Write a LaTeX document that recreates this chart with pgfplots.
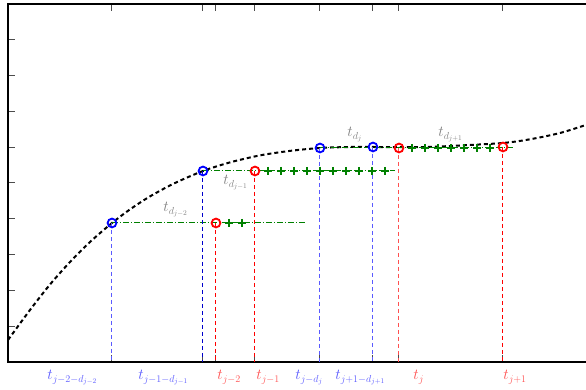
\RequirePackage{fix-cm}
\documentclass[border=0pt]{standalone}
\usepackage{graphicx}
\usepackage{pgfplots}
\pgfplotsset{compat=1.18}
\DeclareMathSizes{20}{20}{13.4}{9.5}
\newcommand{\lab}[1]{\scalebox{0.38}{\fontsize{20}{24}\selectfont$#1$}}
\definecolor{mgreen}{RGB}{0,128,0}
\definecolor{lblue}{RGB}{90,90,255}
\definecolor{lred}{RGB}{255,80,80}
\definecolor{tgray}{RGB}{128,128,128}
\begin{document}
\begin{tikzpicture}
\begin{axis}[
  at={(0,0)}, anchor=south west,
  scale only axis, width=296pt, height=179pt,
  xmin=8, xmax=600, ymin=0, ymax=358,
  xtick={112,203,216,255,320,373,399,503}, xticklabels={},
  ytick={0,35.8,71.6,107.4,143.2,179,214.8,250.6,286.4,322.2,358}, yticklabels={},
  ytick pos=left,
  tick align=inside, major tick length=3.5pt,
  every tick/.style={black!70, line width=0.5pt},
  axis line style={line width=0.8pt},
  clip=true,
]
% curve
\addplot[black, line width=1pt, dash pattern=on 2pt off 1.5pt, smooth] coordinates {
(8,22) (30,52) (50,77.5) (70,100) (90,120) (112,139) (130,152.6) (150,165.6) (175,179)
(203,191) (230,199.6) (260,206.6) (290,211.1) (320,214) (350,215) (373,215)
(399,214.8) (430,215.1) (460,216.5) (503,219) (530,222.7) (560,229) (586,237) (600,241)};
% green horizontal lines
\addplot[mgreen, line width=0.5pt, dash pattern=on 3pt off 1pt on 0.5pt off 1pt] coordinates {(112,139) (307,139)};
\addplot[mgreen, line width=0.5pt, dash pattern=on 3pt off 1pt on 0.5pt off 1pt] coordinates {(203,191) (395,191)};
\addplot[mgreen, line width=0.5pt, dash pattern=on 3pt off 1pt on 0.5pt off 1pt] coordinates {(320,214) (513,214)};
% vertical lines
\addplot[lblue, line width=0.5pt, dash pattern=on 2pt off 1.5pt] coordinates {(112,139) (112,0)};
\addplot[blue!80!black, line width=0.5pt, dash pattern=on 2pt off 1.5pt] coordinates {(203,191) (203,0)};
\addplot[lblue, line width=0.5pt, dash pattern=on 2pt off 1.5pt] coordinates {(320,214) (320,0)};
\addplot[lblue, line width=0.5pt, dash pattern=on 2pt off 1.5pt] coordinates {(373,215) (373,0)};
\addplot[red, line width=0.5pt, dash pattern=on 2pt off 1.5pt] coordinates {(216,139) (216,0)};
\addplot[red, line width=0.5pt, dash pattern=on 2pt off 1.5pt] coordinates {(255,191) (255,0)};
\addplot[lred, line width=0.5pt, dash pattern=on 2pt off 1.5pt] coordinates {(399,214) (399,0)};
\addplot[red, line width=0.5pt, dash pattern=on 2pt off 1.5pt] coordinates {(503,215) (503,0)};
% green plus marks
\addplot[only marks, mgreen, mark=+, mark size=2pt, mark options={line width=0.9pt}] coordinates {
(229,139) (242,139)
(268,191) (281,191) (294,191) (307,191) (320,191) (333,191) (346,191) (359,191) (372,191) (385,191)
(412,214) (425,214) (438,214) (451,214) (464,214) (477,214) (490,214)};
% circles
\addplot[only marks, blue, mark=o, mark size=2.2pt, mark options={line width=0.9pt}] coordinates {
(112,139) (203,191) (320,214) (373,215)};
\addplot[only marks, red, mark=o, mark size=2.2pt, mark options={line width=0.9pt}] coordinates {
(216,139) (255,191) (399,214) (503,215)};
% gray labels
\node[tgray, anchor=base west, inner sep=0pt] at (axis cs:163,150) {\lab{t_{d_{j-2}}}};
\node[tgray, anchor=base west, inner sep=0pt] at (axis cs:223,177) {\lab{t_{d_{j-1}}}};
\node[tgray, anchor=base west, inner sep=0pt] at (axis cs:347,225) {\lab{t_{d_{j}}}};
\node[tgray, anchor=base west, inner sep=0pt] at (axis cs:438,225) {\lab{t_{d_{j+1}}}};
\end{axis}
% bottom labels (pixel positions: x_pt = (px-8)/2, y_pt = (362-py)/2)
\begin{scope}[every node/.style={anchor=base west, inner sep=0pt}]
\node[lblue] at (19.5pt,-9pt) {\lab{t_{j-2-d_{j-2}}}};
\node[lblue] at (65pt,-9pt) {\lab{t_{j-1-d_{j-1}}}};
\node[lred] at (104.5pt,-9pt) {\lab{t_{j-2}}};
\node[lred] at (124pt,-9pt) {\lab{t_{j-1}}};
\node[lblue] at (143.5pt,-9pt) {\lab{t_{j-d_j}}};
\node[lblue] at (163.5pt,-9pt) {\lab{t_{j+1-d_{j+1}}}};
\node[lred] at (202.5pt,-9pt) {\lab{t_{j}}};
\node[lred] at (247.5pt,-9pt) {\lab{t_{j+1}}};
\end{scope}
\pgfresetboundingbox
\path (-4pt,-14pt) rectangle (289pt,181pt);
\end{tikzpicture}
\end{document}
